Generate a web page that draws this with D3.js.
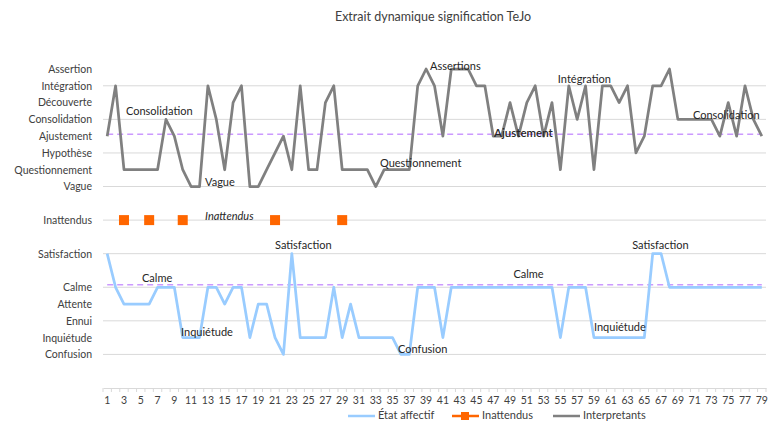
<!DOCTYPE html>
<html>
<head>
<meta charset="utf-8">
<script src="https://cdn.jsdelivr.net/npm/d3@7"></script>
<style>
  body { margin: 0; background: #fff; }
  svg { font-family: Lato, "Open Sans", sans-serif; }
</style>
</head>
<body>
<div id="chart"></div>
<script>
// Categories 1..79
const categories = d3.range(1, 80);

// Interpretants (upper series), level codes
const interpretants = [15, 18, 13, 13, 13, 13, 13, 16, 15, 13, 12, 12, 18, 16, 13, 17, 18, 12, 12, 13,
  14, 15, 13, 18, 13, 13, 17, 18, 13, 13, 13, 13, 12, 13, 13, 13, 13, 18, 19, 18,
  15, 19, 19, 19, 18, 18, 15, 15, 17, 15, 17, 18, 15, 17, 13, 18, 16, 18, 13, 18,
  18, 17, 18, 14, 15, 18, 18, 19, 16, 16, 16, 16, 16, 15, 17, 15, 18, 16, 15];

// État affectif (lower series)
const etatAffectif = [8, 6, 5, 5, 5, 5, 6, 6, 6, 3, 3, 3, 6, 6, 5, 6, 6, 3, 5, 5,
  3, 2, 8, 3, 3, 3, 3, 6, 3, 5, 3, 3, 3, 3, 3, 2, 2, 6, 6, 6,
  3, 6, 6, 6, 6, 6, 6, 6, 6, 6, 6, 6, 6, 6, 3, 6, 6, 6, 3, 3,
  3, 3, 3, 3, 3, 8, 8, 6, 6, 6, 6, 6, 6, 6, 6, 6, 6, 6, 6];

// Inattendus markers (category numbers), at level 10
const inattendusAt = [3, 6, 10, 21, 29];
const inattendusLevel = 10;

// Reference (dashed) levels
const refTop = 15.12;
const refBottom = 6.15;

// Y-axis level labels
const levelValues = [19, 18, 17, 16, 15, 14, 13, 12, 10, 8, 6, 5, 4, 3, 2];
const levelNames = ['Assertion', 'Intégration', 'Découverte', 'Consolidation', 'Ajustement',
  'Hypothèse', 'Questionnement', 'Vague', 'Inattendus', 'Satisfaction', 'Calme',
  'Attente', 'Ennui', 'Inquiétude', 'Confusion'];
const gridValues = [0, 2, 4, 6, 8, 10, 12, 14, 16, 18];

// Annotations: [text, category, level]
const annotations = [
  ['Consolidation', 3.24, 16.44], ['Vague', 12.66, 12.21], ['Assertions', 39.47, 19.12],
  ['Questionnement', 33.5, 13.34], ['Intégration', 54.7, 18.34], ['Consolidation', 70.8, 16.2],
  ['Calme', 5.15, 6.49], ['Inquiétude', 9.8, 3.28], ['Satisfaction', 21, 8.46],
  ['Confusion', 35.66, 2.26], ['Calme', 49.4, 6.73], ['Inquiétude', 59, 3.57],
  ['Satisfaction', 63.55, 8.46]
];

const width = 768, height = 423;
const margin = { left: 103, right: 2, top: 69, bottom: 35 };

const svg = d3.select('#chart').append('svg')
  .attr('width', width).attr('height', height);

const x = d3.scaleBand().domain(categories).range([margin.left, width - margin.right]);
const cx = i => x(i) + x.bandwidth() / 2;
// fractional category position
const fx = c => margin.left + (c - 0.5) * x.step();
const y = d3.scaleLinear().domain([0, 19]).range([388, 69]);

// Title
svg.append('text')
  .attr('x', 433).attr('y', 21)
  .attr('text-anchor', 'middle')
  .attr('font-size', 12.5)
  .attr('fill', '#404040')
  .text('Extrait dynamique signification TeJo');

// Gridlines
svg.append('g')
  .selectAll('line')
  .data(gridValues.filter(v => v > 0))
  .join('line')
  .attr('x1', margin.left).attr('x2', width - margin.right)
  .attr('y1', d => y(d)).attr('y2', d => y(d))
  .attr('stroke', '#d9d9d9').attr('stroke-width', 1);

// X axis
const xAxis = d3.axisBottom(x)
  .tickValues(categories.filter(d => d % 2 === 1))
  .tickSize(0).tickPadding(9);
const gx = svg.append('g').attr('transform', `translate(0,${y(0)})`).call(xAxis);
gx.select('.domain').attr('stroke', '#d9d9d9');
gx.selectAll('text').attr('font-size', 10.5).attr('fill', '#404040')
  .attr('font-family', 'Lato, sans-serif');
// tick marks at category boundaries
svg.append('g').selectAll('line')
  .data(d3.range(0, 80))
  .join('line')
  .attr('x1', d => margin.left + d * x.step()).attr('x2', d => margin.left + d * x.step())
  .attr('y1', y(0)).attr('y2', y(0) + 4)
  .attr('stroke', '#d9d9d9');

// Y axis labels
const yAxis = d3.axisLeft(y)
  .tickValues(levelValues)
  .tickFormat((d, i) => levelNames[i])
  .tickSize(0).tickPadding(11);
const gy = svg.append('g').attr('transform', `translate(${margin.left},0)`).call(yAxis);
gy.select('.domain').remove();
gy.selectAll('text').attr('font-size', 10.5).attr('fill', '#404040')
  .attr('font-family', 'Lato, sans-serif');

// Dashed reference lines
[refTop, refBottom].forEach(v => {
  svg.append('line')
    .attr('x1', cx(1)).attr('x2', cx(79))
    .attr('y1', y(v)).attr('y2', y(v))
    .attr('stroke', '#cc99ff').attr('stroke-width', 1.5)
    .attr('stroke-dasharray', '6,4');
});

const line = d3.line().x((d, i) => cx(categories[i])).y(d => y(d));

// Interpretants
svg.append('path')
  .datum(interpretants)
  .attr('d', line)
  .attr('fill', 'none')
  .attr('stroke', '#808080')
  .attr('stroke-width', 2.75)
  .attr('stroke-linejoin', 'round');

// État affectif
svg.append('path')
  .datum(etatAffectif)
  .attr('d', line)
  .attr('fill', 'none')
  .attr('stroke', '#99ccff')
  .attr('stroke-width', 2.75)
  .attr('stroke-linejoin', 'round');

// Inattendus markers
svg.append('g').selectAll('rect')
  .data(inattendusAt)
  .join('rect')
  .attr('x', d => cx(d) - 5).attr('y', y(inattendusLevel) - 5)
  .attr('width', 10).attr('height', 10)
  .attr('fill', '#ff6600');

// Annotations
svg.append('g').selectAll('text')
  .data(annotations)
  .join('text')
  .attr('x', d => fx(d[1])).attr('y', d => y(d[2]))
  .attr('dominant-baseline', 'middle')
  .attr('font-size', 11)
  .attr('fill', '#262626')
  .text(d => d[0]);

// Ajustement label (bolder) and italic Inattendus label
svg.append('text')
  .attr('x', fx(47.1)).attr('y', y(15.13))
  .attr('dominant-baseline', 'middle')
  .attr('font-size', 11.5).attr('font-weight', 600)
  .attr('fill', '#262626')
  .text('Ajustement');
svg.append('text')
  .attr('x', fx(12.66)).attr('y', y(10.18))
  .attr('dominant-baseline', 'middle')
  .attr('font-size', 11).attr('font-style', 'italic')
  .attr('fill', '#262626')
  .text('Inattendus');

// Legend
const legendItems = [
  { name: 'État affectif', color: '#99ccff', x: 348, marker: false },
  { name: 'Inattendus', color: '#ff6600', x: 452, marker: true },
  { name: 'Interpretants', color: '#808080', x: 553, marker: false }
];
const lg = svg.append('g').selectAll('g')
  .data(legendItems)
  .join('g')
  .attr('transform', d => `translate(${d.x},416)`);
lg.append('line')
  .attr('x1', 0).attr('x2', 27)
  .attr('stroke', d => d.color).attr('stroke-width', 2.5);
lg.filter(d => d.marker).append('rect')
  .attr('x', 9).attr('y', -4).attr('width', 8).attr('height', 8)
  .attr('fill', d => d.color);
lg.append('text')
  .attr('x', 30).attr('dominant-baseline', 'middle')
  .attr('font-size', 11).attr('fill', '#404040')
  .text(d => d.name);
</script>
</body>
</html>
